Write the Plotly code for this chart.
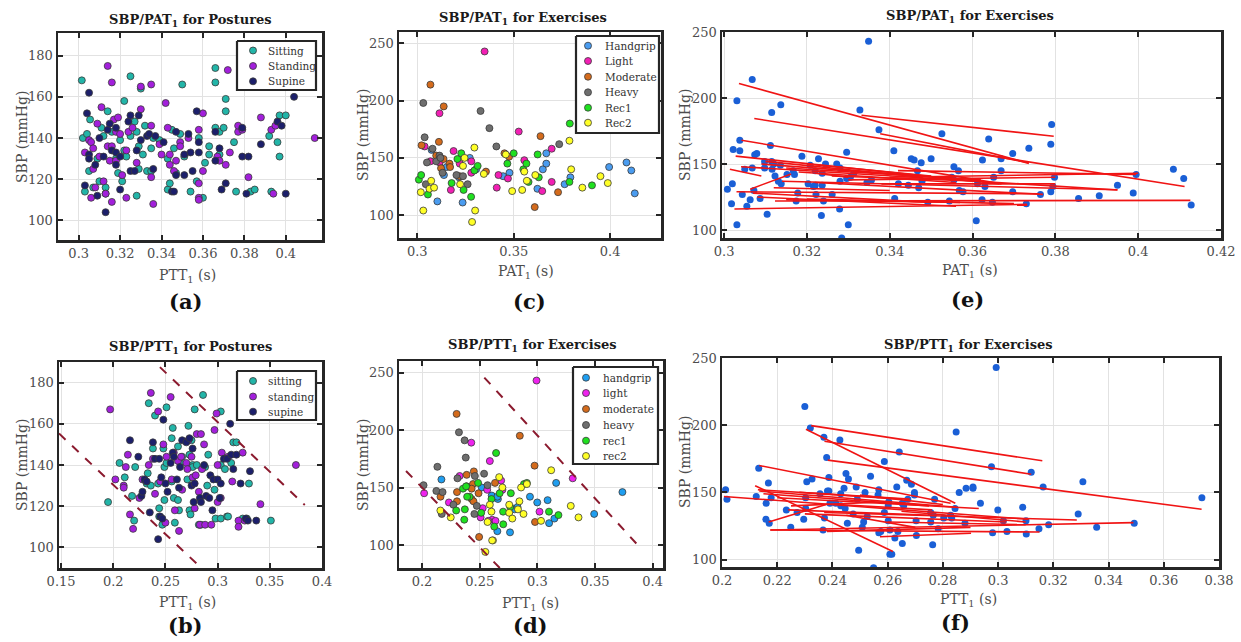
import plotly.graph_objects as go

# ---------------- data: postures, PAT (panel a) ----------------
sit_pat_x = [0.3015,0.302,0.304,0.303,0.3055,0.305,0.307,0.309,0.310,0.311,0.312,0.313,0.313,0.314,0.316,0.318,0.319,0.320,0.321,0.322,0.322,0.323,0.325,0.325,0.327,0.328,0.328,0.329,0.329,0.330,0.331,0.332,0.333,0.335,0.335,0.336,0.339,0.343,0.343,0.344,0.345,0.346,0.347,0.349,0.350,0.351,0.354,0.357,0.358,0.360,0.361,0.363,0.363,0.366,0.366,0.366,0.368,0.368,0.371,0.371,0.370,0.375,0.376,0.383,0.385,0.392,0.393,0.396,0.397,0.397,0.400]
sit_pat_y = [168,140,142,114,149,124,116,130,119,145,141,116,113,153,143,130,123,139,119,158,134,131,170,141,148,143,112,136,125,164,132,146,124,124,135,140,139,130,115,118,144,135,123,142,166,131,114,119,140,111,128,132,136,174,167,145,132,143,159,153,145,138,114,114,115,141,114,138,131,151,151]
sta_pat_x = [0.303,0.305,0.306,0.306,0.307,0.307,0.308,0.309,0.310,0.311,0.312,0.313,0.314,0.314,0.315,0.316,0.316,0.317,0.316,0.318,0.318,0.319,0.320,0.321,0.323,0.323,0.324,0.326,0.328,0.330,0.330,0.335,0.335,0.335,0.336,0.339,0.340,0.342,0.343,0.344,0.344,0.346,0.347,0.349,0.349,0.353,0.358,0.358,0.358,0.358,0.360,0.360,0.367,0.368,0.372,0.371,0.373,0.377,0.377,0.379,0.382,0.388,0.393,0.394,0.395,0.414]
sta_pat_y = [133,139,138,111,135,125,116,147,131,155,119,113,175,136,129,167,136,149,109,143,129,150,142,122,134,111,143,145,128,154,165,166,146,121,108,137,132,157,145,132,127,124,129,138,136,140,144,118,111,110,124,152,131,129,173,127,133,143,146,144,121,150,144,113,146,140]
sup_pat_x = [0.303,0.304,0.305,0.305,0.305,0.308,0.309,0.310,0.312,0.313,0.314,0.315,0.316,0.318,0.318,0.318,0.320,0.320,0.324,0.325,0.325,0.327,0.328,0.329,0.330,0.333,0.334,0.336,0.337,0.341,0.345,0.346,0.347,0.347,0.351,0.351,0.353,0.354,0.355,0.357,0.358,0.358,0.366,0.366,0.368,0.369,0.371,0.379,0.379,0.381,0.382,0.388,0.396,0.398,0.400,0.404]
sup_pat_y = [117,152,162,132,130,127,112,140,131,104,144,147,134,145,133,127,115,131,148,151,124,124,134,151,139,141,142,125,141,138,114,114,122,143,122,132,142,133,124,153,138,133,143,129,135,115,118,131,145,113,131,137,148,146,113,160]

# ---------------- data: postures, PTT (panel b) ----------------
sit_ptt_x = [0.195,0.206,0.211,0.218,0.220,0.221,0.232,0.233,0.234,0.236,0.238,0.240,0.243,0.244,0.244,0.247,0.248,0.249,0.249,0.251,0.251,0.256,0.256,0.257,0.258,0.259,0.262,0.262,0.263,0.264,0.266,0.271,0.272,0.273,0.273,0.274,0.275,0.276,0.276,0.278,0.280,0.282,0.284,0.286,0.288,0.290,0.291,0.297,0.298,0.303,0.303,0.303,0.307,0.309,0.310,0.313,0.315,0.318,0.324,0.328,0.330,0.351]
sit_ptt_y = [122,141,134,125,113,139,131,136,170,130,148,164,131,119,115,111,148,123,139,168,141,153,132,158,124,112,149,123,118,141,144,133,159,145,118,116,152,140,139,167,140,111,111,174,139,130,145,128,114,114,140,166,138,115,115,141,151,151,114,114,131,113]
sta_ptt_x = [0.197,0.202,0.210,0.210,0.212,0.214,0.216,0.219,0.225,0.228,0.234,0.236,0.238,0.240,0.243,0.245,0.248,0.250,0.251,0.255,0.256,0.258,0.259,0.262,0.263,0.265,0.266,0.270,0.271,0.272,0.275,0.276,0.278,0.279,0.280,0.282,0.283,0.284,0.285,0.287,0.288,0.294,0.297,0.299,0.300,0.300,0.303,0.304,0.310,0.314,0.320,0.320,0.324,0.326,0.341,0.375]
sta_ptt_y = [167,133,130,129,139,145,116,109,124,133,140,175,143,126,166,132,150,112,144,173,133,146,118,142,108,144,128,141,138,152,144,134,119,135,155,127,111,155,138,150,111,111,157,165,140,122,124,146,144,132,113,110,146,113,121,140]
sup_ptt_x = [0.216,0.224,0.227,0.228,0.230,0.232,0.235,0.238,0.240,0.243,0.244,0.245,0.246,0.247,0.248,0.250,0.252,0.255,0.257,0.258,0.261,0.263,0.264,0.266,0.270,0.273,0.275,0.276,0.277,0.278,0.283,0.284,0.287,0.289,0.292,0.293,0.295,0.296,0.300,0.302,0.303,0.306,0.309,0.312,0.313,0.315,0.318,0.322,0.327,0.329,0.331,0.337]
sup_ptt_y = [152,144,125,127,133,132,117,151,143,104,143,115,134,114,162,131,127,141,146,144,133,129,139,152,151,153,130,148,122,131,124,122,140,125,124,135,118,133,133,124,131,143,143,160,145,138,145,131,114,113,137,113]

# ---------------- data: exercises, PAT (panels c, e) ----------------
hg_pat_x = [0.3074,0.3104,0.3138,0.3235,0.3272,0.3305,0.3445,0.3478,0.3623,0.3651,0.3669,0.3669,0.3764,0.3794,0.3995,0.4085,0.411,0.4128,0.3152,0.3216]
hg_pat_y = [157,112,135,111,150,140,134,137,123,140,145,154,127,133,142,146,139,119,142,133]
li_pat_x = [0.3038,0.3068,0.3115,0.3174,0.3188,0.322,0.328,0.328,0.3349,0.3412,0.3421,0.347,0.3526,0.3555,0.3648,0.3697,0.3697,0.3116]
li_pat_y = [160,147,189,122,156,145,147,137,243,124,135,132,173,148,121,129,158,146]
mo_pat_x = [0.3022,0.3068,0.3098,0.3112,0.3123,0.3137,0.3136,0.3167,0.317,0.322,0.3356,0.3452,0.3476,0.3639,0.3609,0.373]
mo_pat_y = [161,214,152,164,141,195,149,145,142,134,138,154,151,169,107,120]
he_pat_x = [0.3031,0.3038,0.305,0.3044,0.3079,0.3098,0.3115,0.3131,0.3203,0.3237,0.3261,0.3328,0.3374,0.341,0.3736,0.312]
he_pat_y = [198,168,146,127,158,147,152,137,135,134,127,191,176,160,162,150]
r1_pat_x = [0.3008,0.302,0.3055,0.3178,0.3208,0.3228,0.324,0.3279,0.3296,0.3313,0.3467,0.35,0.355,0.3566,0.3624,0.363,0.3791,0.3789,0.3906,0.3577]
r1_pat_y = [131,135,118,128,149,154,122,116,139,143,145,154,140,145,153,133,180,129,126,129]
r2_pat_x = [0.3018,0.3031,0.3072,0.3063,0.3087,0.3222,0.3237,0.3245,0.3296,0.33,0.3284,0.3345,0.3459,0.3492,0.3544,0.3555,0.3568,0.3612,0.3789,0.3798,0.3856,0.395,0.3988]
r2_pat_y = [120,104,130,123,124,127,143,150,159,104,94,136,153,121,122,138,130,135,165,140,124,134,128]

# ---------------- data: exercises, PTT (panels d, f) ----------------
hg_ptt_x = [0.2168,0.2518,0.2604,0.2658,0.2653,0.2653,0.2763,0.2803,0.2828,0.2936,0.2999,0.3089,0.3102,0.3148,0.3163,0.3493,0.3738]
hg_ptt_y = [157,150,143,140,142,112,111,131,133,142,137,139,119,123,154,127,146]
li_ptt_x = [0.2018,0.2233,0.2326,0.2427,0.2508,0.2526,0.2565,0.2588,0.2608,0.2637,0.2686,0.2697,0.2993,0.3019,0.3307,0.2575]
li_ptt_y = [145,137,160,189,124,132,148,173,122,121,156,148,243,129,158,121]
mo_ptt_x = [0.216,0.230,0.2303,0.2303,0.2387,0.2387,0.2449,0.2442,0.243,0.243,0.2446,0.249,0.2495,0.2633,0.2848,0.2976,0.298]
mo_ptt_y = [142,214,146,138,161,151,164,153,149,140,138,145,107,154,195,169,120]
he_ptt_x = [0.2013,0.2124,0.2133,0.2178,0.2171,0.2272,0.2307,0.232,0.2369,0.2379,0.2454,0.2458,0.2475,0.2538,0.2568]
he_ptt_y = [152,147,168,146,127,135,158,198,191,176,127,160,134,162,152]
r1_ptt_x = [0.2296,0.2355,0.2371,0.2366,0.2382,0.2412,0.2486,0.2513,0.2602,0.2642,0.2626,0.2673,0.2703,0.2704,0.277,0.2765,0.2884,0.2909,0.3101,0.3183,0.2391]
r1_ptt_y = [130,149,131,122,151,142,154,128,140,180,116,145,129,118,145,133,153,154,129,126,142]
r2_ptt_x = [0.2159,0.2249,0.2568,0.2549,0.2588,0.2602,0.2615,0.2669,0.2697,0.2756,0.2756,0.2783,0.2832,0.2844,0.2859,0.288,0.2909,0.3032,0.312,0.329,0.3357,0.2608]
r2_ptt_y = [130,124,120,94,135,129,104,159,150,135,128,123,131,138,150,127,153,121,165,134,124,104]

# ---------------- regression segments (panels e, f) ----------------
e_x0 = [0.3036,0.3073,0.3332,0.3377,0.3042,0.3028,0.3014,0.3063,0.3025,0.3123,0.3041,0.3420,0.3100,0.3090,0.3150,0.3180,0.3200,0.3260,0.3220,0.3030,0.3070,0.3150,0.3080,0.3140,0.3400,0.3300,0.3220,0.3380,0.3120,0.3200]
e_y0 = [211,184.5,187,173,168,156,146,131,116,122,148,145,152,150,147,144,150,141,136,129,128,123,125,137,140,138,143,135,132,123.5]
e_x1 = [0.3736,0.4112,0.3796,0.3736,0.3670,0.3665,0.3090,0.3162,0.3732,0.4126,0.3950,0.3995,0.3480,0.3560,0.3620,0.3560,0.3500,0.3620,0.3770,0.3760,0.3500,0.3570,0.3560,0.3950,0.4000,0.3800,0.3300,0.3800,0.3400,0.3700]
e_y1 = [150.5,133,171,151,135,135,141,142.5,119.5,122.5,130.4,142.2,140,139,138,136,141,137,127,127.5,121,121,118,130.5,143,140,140,135,130,120]

f_x0 = [0.2323,0.2371,0.2383,0.2304,0.2120,0.2135,0.2007,0.2175,0.2175,0.2370,0.2572,0.2169,0.2130,0.2135,0.2150,0.2200,0.2280,0.2240,0.2300,0.2380,0.2450,0.2500,0.2250,0.2600,0.2420,0.2650]
f_y0 = [199.7,188,174,197,155,170,147,122,122,135,117,128,152,151,149,146,150,137,134,121,133,148,140,128,141,136]
f_x1 = [0.3160,0.3120,0.3737,0.2845,0.2619,0.2828,0.3110,0.3490,0.3150,0.3285,0.2902,0.2377,0.2680,0.2850,0.2750,0.2930,0.2650,0.2760,0.3030,0.2900,0.2700,0.2800,0.2600,0.3100,0.2760,0.3100]
f_y1 = [173.5,163.5,137.5,142,106,142,130,127.5,120.5,129.5,119.6,141,145,139,140,138,145,133,128,124,124,141,143,126,137,128]

# ---------------- dashed boundary lines (panels b, d) ----------------
b_dash1_x = [0.148, 0.2885]
b_dash1_y = [155.3, 88]
b_dash2_x = [0.2447, 0.3835]
b_dash2_y = [187.5, 120.6]
d_dash1_x = [0.1861, 0.2700]
d_dash1_y = [164.4, 77.3]
d_dash2_x = [0.2540, 0.3900]
d_dash2_y = [245.6, 96.8]

# ---------------- tick labels ----------------
ticks_pat_a = [0.3, 0.32, 0.34, 0.36, 0.38, 0.4]
ticks_sbp_a = [100, 120, 140, 160, 180]
ticks_pat_c = [0.3, 0.35, 0.4]
ticks_sbp_c = [100, 150, 200, 250]
ticks_pat_e = [0.3, 0.32, 0.34, 0.36, 0.38, 0.4, 0.42]
ticks_ptt_b = [0.15, 0.2, 0.25, 0.3, 0.35, 0.4]
ticks_ptt_d = [0.2, 0.25, 0.3, 0.35, 0.4]
ticks_ptt_f = [0.2, 0.22, 0.24, 0.26, 0.28, 0.3, 0.32, 0.34, 0.36, 0.38]

posture_names_a = ["Sitting", "Standing", "Supine"]
posture_names_b = ["sitting", "standing", "supine"]
exercise_names_c = ["Handgrip", "Light", "Moderate", "Heavy", "Rec1", "Rec2"]
exercise_names_d = ["handgrip", "light", "moderate", "heavy", "rec1", "rec2"]

posture_colors = ["#22b5a8", "#a21fdb", "#1c1f6b"]
exercise_colors_c = ["#4a9cf0", "#f21fb4", "#d46b1c", "#6e6e6e", "#1fe01f", "#ffff26"]
exercise_colors_d = ["#1f9ef0", "#ee22ee", "#d46b1c", "#6e6e6e", "#1fe01f", "#ffff26"]

W, H = 1241, 642
SERIF = "DejaVu Serif"

def fx(p):
    return p / W

def fy(p):
    return 1 - p / H

fig = go.Figure()

def fmt(v):
    return ("%.2f" % v).rstrip("0").rstrip(".")

def pts(x, y, name, color, xa, ya, edge=True, size=7):
    fig.add_trace(go.Scatter(
        x=x, y=y, mode="markers", name=name, xaxis=xa, yaxis=ya,
        showlegend=False, hoverinfo="skip",
        marker=dict(size=size, color=color,
                    line=dict(width=0.8 if edge else 0, color="#3a3a3a")),
    ))

# panel a
for xs, ys, nm, c in zip([sit_pat_x, sta_pat_x, sup_pat_x], [sit_pat_y, sta_pat_y, sup_pat_y], posture_names_a, posture_colors):
    pts(xs, ys, nm, c, "x", "y")
# panel b
for xs, ys, nm, c in zip([sit_ptt_x, sta_ptt_x, sup_ptt_x], [sit_ptt_y, sta_ptt_y, sup_ptt_y], posture_names_b, posture_colors):
    pts(xs, ys, nm, c, "x4", "y4")
for dx, dy in [(b_dash1_x, b_dash1_y), (b_dash2_x, b_dash2_y)]:
    fig.add_trace(go.Scatter(x=dx, y=dy, mode="lines", xaxis="x4", yaxis="y4", showlegend=False,
                             hoverinfo="skip", line=dict(color="#8b1a2e", width=2, dash="dash")))

pat_groups_x = [hg_pat_x, li_pat_x, mo_pat_x, he_pat_x, r1_pat_x, r2_pat_x]
pat_groups_y = [hg_pat_y, li_pat_y, mo_pat_y, he_pat_y, r1_pat_y, r2_pat_y]
ptt_groups_x = [hg_ptt_x, li_ptt_x, mo_ptt_x, he_ptt_x, r1_ptt_x, r2_ptt_x]
ptt_groups_y = [hg_ptt_y, li_ptt_y, mo_ptt_y, he_ptt_y, r1_ptt_y, r2_ptt_y]

# panel c
for xs, ys, nm, c in zip(pat_groups_x, pat_groups_y, exercise_names_c, exercise_colors_c):
    pts(xs, ys, nm, c, "x2", "y2")
# panel d
for xs, ys, nm, c in zip(ptt_groups_x, ptt_groups_y, exercise_names_d, exercise_colors_d):
    pts(xs, ys, nm, c, "x5", "y5")
for dx, dy in [(d_dash1_x, d_dash1_y), (d_dash2_x, d_dash2_y)]:
    fig.add_trace(go.Scatter(x=dx, y=dy, mode="lines", xaxis="x5", yaxis="y5", showlegend=False,
                             hoverinfo="skip", line=dict(color="#8b1a2e", width=2, dash="dash")))

def seg_xy(x0, y0, x1, y1):
    xs, ys = [], []
    for a, b, c, d in zip(x0, y0, x1, y1):
        xs += [a, c, None]
        ys += [b, d, None]
    return xs, ys

all_pat_x = sum(pat_groups_x, [])
all_pat_y = sum(pat_groups_y, [])
all_ptt_x = sum(ptt_groups_x, [])
all_ptt_y = sum(ptt_groups_y, [])

pts(all_pat_x, all_pat_y, "e", "#1a5fd6", "x3", "y3", edge=False)
sx, sy = seg_xy(e_x0, e_y0, e_x1, e_y1)
fig.add_trace(go.Scatter(x=sx, y=sy, mode="lines", xaxis="x3", yaxis="y3", showlegend=False,
                         hoverinfo="skip", line=dict(color="#f01414", width=1.6)))
pts(all_ptt_x, all_ptt_y, "f", "#1a5fd6", "x6", "y6", edge=False)
sx, sy = seg_xy(f_x0, f_y0, f_x1, f_y1)
fig.add_trace(go.Scatter(x=sx, y=sy, mode="lines", xaxis="x6", yaxis="y6", showlegend=False,
                         hoverinfo="skip", line=dict(color="#f01414", width=1.6)))

# ---------------- legends (drawn on a full-page overlay axis, pixel units) ----------------
legend_specs = [
    # (left, top, right, bottom, marker_x, text_x, row_y list, names, colors)
    (237, 41, 316, 90, 253, 266, [50.5, 66, 81.3], posture_names_a, posture_colors),
    (237, 371, 316, 420, 253, 266, [381, 396.5, 411.7], posture_names_b, posture_colors),
    (576, 36, 659, 133, 588, 603, [45.7, 61, 76.7, 92.3, 107.7, 122.7], exercise_names_c, exercise_colors_c),
    (573, 367, 658, 464, 586, 601, [377.7, 393, 409, 425, 440.7, 456], exercise_names_d, exercise_colors_d),
]
for l, t, r, b, mx, tx, rows, names, colors in legend_specs:
    fig.add_trace(go.Scatter(x=[l, r, r, l, l], y=[t, t, b, b, t], mode="lines", fill="toself",
                             fillcolor="white", line=dict(color="#262626", width=2.2),
                             xaxis="x7", yaxis="y7", showlegend=False, hoverinfo="skip"))
    fig.add_trace(go.Scatter(x=[mx] * len(rows), y=rows, mode="markers", xaxis="x7", yaxis="y7",
                             showlegend=False, hoverinfo="skip",
                             marker=dict(size=7, color=colors, line=dict(width=0.8, color="#3a3a3a"))))
    for nm, ry in zip(names, rows):
        fig.add_annotation(text=nm, x=tx, y=ry, xref="x7", yref="y7", xanchor="left",
                           yanchor="middle", showarrow=False,
                           font=dict(family=SERIF, size=10.5, color="#333333"))

tickfont = dict(family=SERIF, size=13, color="#4d4d4d")

common = dict(showline=True, linecolor="#262626", linewidth=2.5, mirror="all",
              ticks="inside", ticklen=5, tickwidth=2, tickcolor="#262626",
              showgrid=True, gridcolor="#e2e2e2", gridwidth=1, zeroline=False,
              automargin=False, fixedrange=True)

def xax(dom, rng, ticks, anchor):
    return dict(domain=[fx(dom[0]), fx(dom[1])], range=rng, anchor=anchor,
                tickvals=ticks, ticktext=[fmt(t) for t in ticks],
                tickfont=tickfont, **common)

def yax(dom, rng, ticks, anchor):
    return dict(domain=[fy(dom[1]), fy(dom[0])], range=rng, anchor=anchor,
                tickvals=ticks, ticktext=[str(t) for t in ticks],
                tickfont=tickfont, **common)

fig.update_layout(
    width=W, height=H, margin=dict(l=0, r=0, t=0, b=0, autoexpand=False),
    paper_bgcolor="white", plot_bgcolor="rgba(0,0,0,0)", showlegend=False,
    xaxis=xax((58, 322), [0.29, 0.4175], ticks_pat_a, "y"),
    yaxis=yax((33, 240), [90.5, 191], ticks_sbp_a, "x"),
    xaxis2=xax((399, 661), [0.2905, 0.4264], ticks_pat_c, "y2"),
    yaxis2=yax((32, 238), [80, 260], ticks_sbp_c, "x2"),
    xaxis3=xax((722, 1221), [0.2995, 0.42], ticks_pat_e, "y3"),
    yaxis3=yax((32, 238), [94, 250], ticks_sbp_c, "x3"),
    xaxis4=xax((59, 322), [0.148, 0.4], ticks_ptt_b, "y4"),
    yaxis4=yax((362, 568), [90, 190], ticks_sbp_a, "x4"),
    xaxis5=xax((399, 663), [0.18, 0.409], ticks_ptt_d, "y5"),
    yaxis5=yax((361, 568), [80, 260], ticks_sbp_c, "x5"),
    xaxis6=xax((722, 1219), [0.2, 0.38], ticks_ptt_f, "y6"),
    yaxis6=yax((358, 567), [94.5, 250], ticks_sbp_c, "x6"),
    xaxis7=dict(domain=[0, 1], range=[0, W], visible=False, fixedrange=True, anchor="y7"),
    yaxis7=dict(domain=[0, 1], range=[H, 0], visible=False, fixedrange=True, anchor="x7"),
)

def text(t, px, py, size, color, bold=False, angle=0):
    fig.add_annotation(text=("<b>%s</b>" % t) if bold else t, x=fx(px), y=fy(py),
                       xref="paper", yref="paper", xanchor="center", yanchor="middle",
                       showarrow=False, textangle=angle,
                       font=dict(family=SERIF, size=size, color=color))

PTT = "PTT<sub>1</sub> (s)"
PAT = "PAT<sub>1</sub> (s)"

titles = [
    ("SBP/PAT<sub>1</sub> for Postures", 190, 20),
    ("SBP/PAT<sub>1</sub> for Exercises", 523, 19),
    ("SBP/PAT<sub>1</sub> for Exercises", 970, 17),
    ("SBP/PTT<sub>1</sub> for Postures", 190, 348),
    ("SBP/PTT<sub>1</sub> for Exercises", 532, 346),
    ("SBP/PTT<sub>1</sub> for Exercises", 968, 345),
]
for t, px, py in titles:
    text(t, px, py, 13, "#1a1a1a", bold=True)

xtitles = [(PTT, 187, 276), (PAT, 526, 272), (PAT, 970, 271),
           (PTT, 187, 603), (PTT, 530, 604), (PTT, 968, 600)]
for t, px, py in xtitles:
    text(t, px, py, 14, "#4d4d4d")

ytitles = [(22, 137), (363, 135), (685, 135), (22, 465), (363, 465), (685, 462)]
for px, py in ytitles:
    text("SBP (mmHg)", px, py, 14, "#4d4d4d", angle=-90)

panel_labels = [("(a)", 186, 302), ("(c)", 529, 302), ("(e)", 967, 299),
                ("(b)", 186, 625), ("(d)", 530, 625), ("(f)", 955, 622)]
for t, px, py in panel_labels:
    text(t, px, py, 21, "#111111", bold=True)

fig.write_html("out.html", config={"displayModeBar": False, "staticPlot": True},
               post_script="document.body.style.margin='0';document.body.style.overflow='hidden';")
